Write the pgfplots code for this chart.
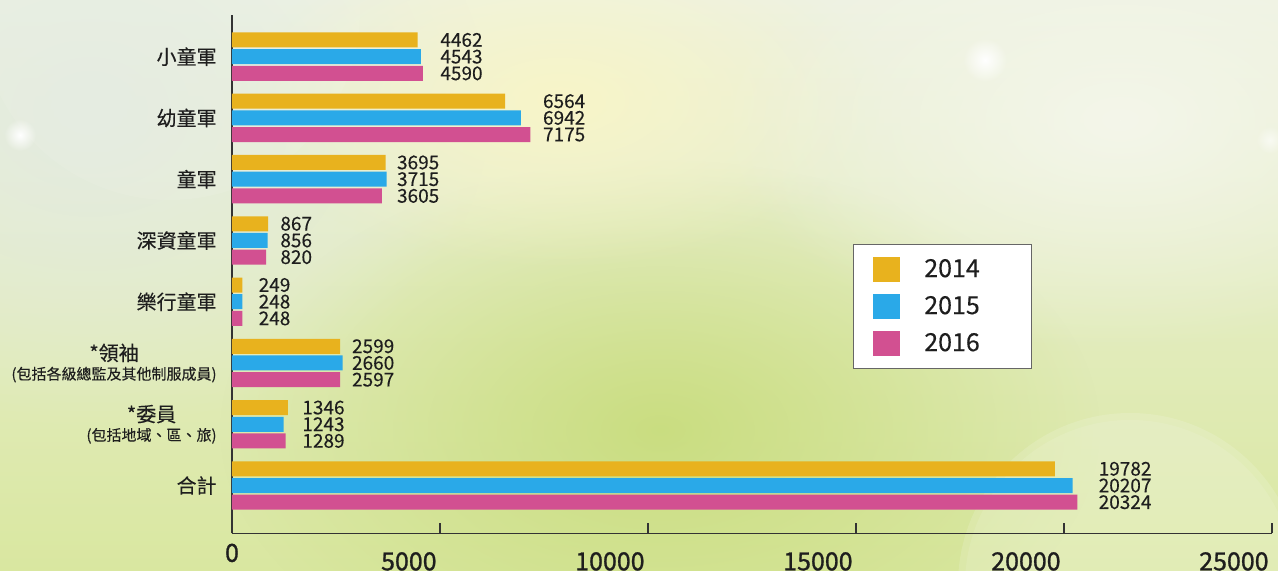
\documentclass[border=0pt]{standalone}
\usepackage{pgfplots}
\pgfplotsset{compat=1.18}
\usepackage{pgfplotstable}
\usepackage{fontspec}
\setmainfont[FakeBold=0.2]{Noto Sans CJK TC}
\newfontfamily\tickfont[FakeBold=1.0]{Noto Sans CJK TC}
\usetikzlibrary{fadings}
\tikzfading[name=fade out, inner color=transparent!0, outer color=transparent!100]

\definecolor{cA}{HTML}{E8B21E}
\definecolor{cB}{HTML}{2AA9E8}
\definecolor{cC}{HTML}{D25091}
\definecolor{txt}{HTML}{1E1E1E}
\definecolor{bgT}{HTML}{EEF2E2}
\definecolor{bgB}{HTML}{D9E7A0}
\definecolor{bgL}{HTML}{E3EBE0}
\definecolor{bgG}{HTML}{C6DB78}
\definecolor{bgY}{HTML}{F8F5C8}
\definecolor{bgW}{HTML}{F4F6EA}

% y: 7 = top category, 0 = bottom; lx = x position of the value label
\pgfplotstableread{
y v lx
7 4462 5000
6 6564 7468
5 3695 3959
4 867 1154
3 249 632
2 2599 2877
1 1346 1683
0 19782 20825
}\tA
\pgfplotstableread{
y v lx
7 4543 5000
6 6942 7468
5 3715 3959
4 856 1154
3 248 632
2 2660 2877
1 1243 1683
0 20207 20825
}\tB
\pgfplotstableread{
y v lx
7 4590 5000
6 7175 7468
5 3605 3959
4 820 1154
3 248 632
2 2597 2877
1 1289 1683
0 20324 20825
}\tC

\begin{document}
\begin{tikzpicture}
% background
\begin{scope}[x=0.5pt,y=-0.5pt]
\clip (0,0) rectangle (1278,571);
\shade[top color=bgT, bottom color=bgB] (0,0) rectangle (1278,571);
\fill[bgG, opacity=0.85, path fading=fade out] (660,430) ellipse (440 and 270);
\fill[bgL, path fading=fade out] (90,110) ellipse (400 and 320);
\fill[bgY, path fading=fade out] (560,100) ellipse (320 and 170);
\fill[bgW, path fading=fade out] (1120,120) ellipse (400 and 230);
\fill[white, opacity=0.14] (1130,585) circle (172);
\fill[white, opacity=0.10] (1130,585) circle (165);
\fill[white, opacity=0.08] (170,10) circle (190);
\fill[white, path fading=fade out] (985,60) circle (22);
\fill[white, path fading=fade out] (20,135) circle (16);
\fill[white, opacity=0.6, path fading=fade out] (1270,140) circle (14);
\end{scope}

\begin{axis}[
  at={(116pt,-266.65pt)}, anchor=south west,
  scale only axis, width=520pt, height=259.15pt,
  xmin=0, xmax=25000, ymin=-0.78, ymax=7.68,
  clip=false,
  axis lines=left,
  axis line style={-, draw=black!80, line width=0.65pt},
  tick align=inside,
  major tick length=5pt,
  xtick={5000,10000,15000,20000,25000},
  x tick style={draw=black!80, line width=0.6pt},
  scaled x ticks=false,
  /pgf/number format/1000 sep={},
  /pgf/number format/assume math mode=true,
  xticklabel style={font=\tickfont\fontsize{12.5}{14}\selectfont, text=txt, anchor=north east, inner sep=0pt, yshift=-9.25pt, xshift=-1.5pt},
  extra x ticks={0},
  extra x tick labels={0},
  extra x tick style={major tick length=0pt, xticklabel style={anchor=north, xshift=1.5pt, yshift=4.25pt}},
  ytick={0,1,2,3,4,5,6,7},
  y tick style={draw=none},
  yticklabels={合計,
    {*委員\\[-1.5pt]{\fontsize{7.5}{8.5}\selectfont (包括地域、區、旅)}},
    {*領袖\\[-1.5pt]{\fontsize{7.5}{8.5}\selectfont (包括各級總監及其他制服成員)}},
    樂行童軍, 深資童軍, 童軍, 幼童軍, 小童軍},
  yticklabel style={font=\fontsize{10}{11}\selectfont, text=txt, align=center, anchor=east, inner sep=0pt, xshift=-2.5pt},
  xbar, bar width=7.5pt,
  legend cell align=left,
  legend image code/.code={\fill[#1, draw=none] (0pt,-6.25pt) rectangle (13.5pt,6.25pt);},
  legend style={at={(0.5968,0.558)}, anchor=north west, draw=black!60, line width=0.6pt, fill=white,
    inner xsep=10pt, inner ysep=6.2pt, row sep=6pt,
    font=\fontsize{12.5}{14}\selectfont, text=txt,
    nodes={inner sep=0pt},
    /tikz/every odd column/.append style={column sep=12pt}},
  nodes near coords style={font=\fontsize{9.5}{10}\selectfont, text=txt, anchor=west, inner sep=0pt},
]
\addplot[draw=none, fill=cA, bar shift=8.35pt] table[x=v, y=y] {\tA};
\addplot[draw=none, fill=cB, bar shift=0pt] table[x=v, y=y] {\tB};
\addplot[draw=none, fill=cC, bar shift=-8.35pt] table[x=v, y=y] {\tC};
\legend{2014\hspace*{16pt}, 2015\hspace*{16pt}, 2016\hspace*{16pt}}
% value labels
\addplot[forget plot, draw=none, fill=none, bar shift=8.35pt, nodes near coords, point meta=explicit symbolic] table[x=lx, y=y, meta=v] {\tA};
\addplot[forget plot, draw=none, fill=none, bar shift=0pt, nodes near coords, point meta=explicit symbolic] table[x=lx, y=y, meta=v] {\tB};
\addplot[forget plot, draw=none, fill=none, bar shift=-8.35pt, nodes near coords, point meta=explicit symbolic] table[x=lx, y=y, meta=v] {\tC};
\end{axis}
\pgfresetboundingbox
\path (0,0) rectangle (639pt,-285.5pt);
\end{tikzpicture}
\end{document}
